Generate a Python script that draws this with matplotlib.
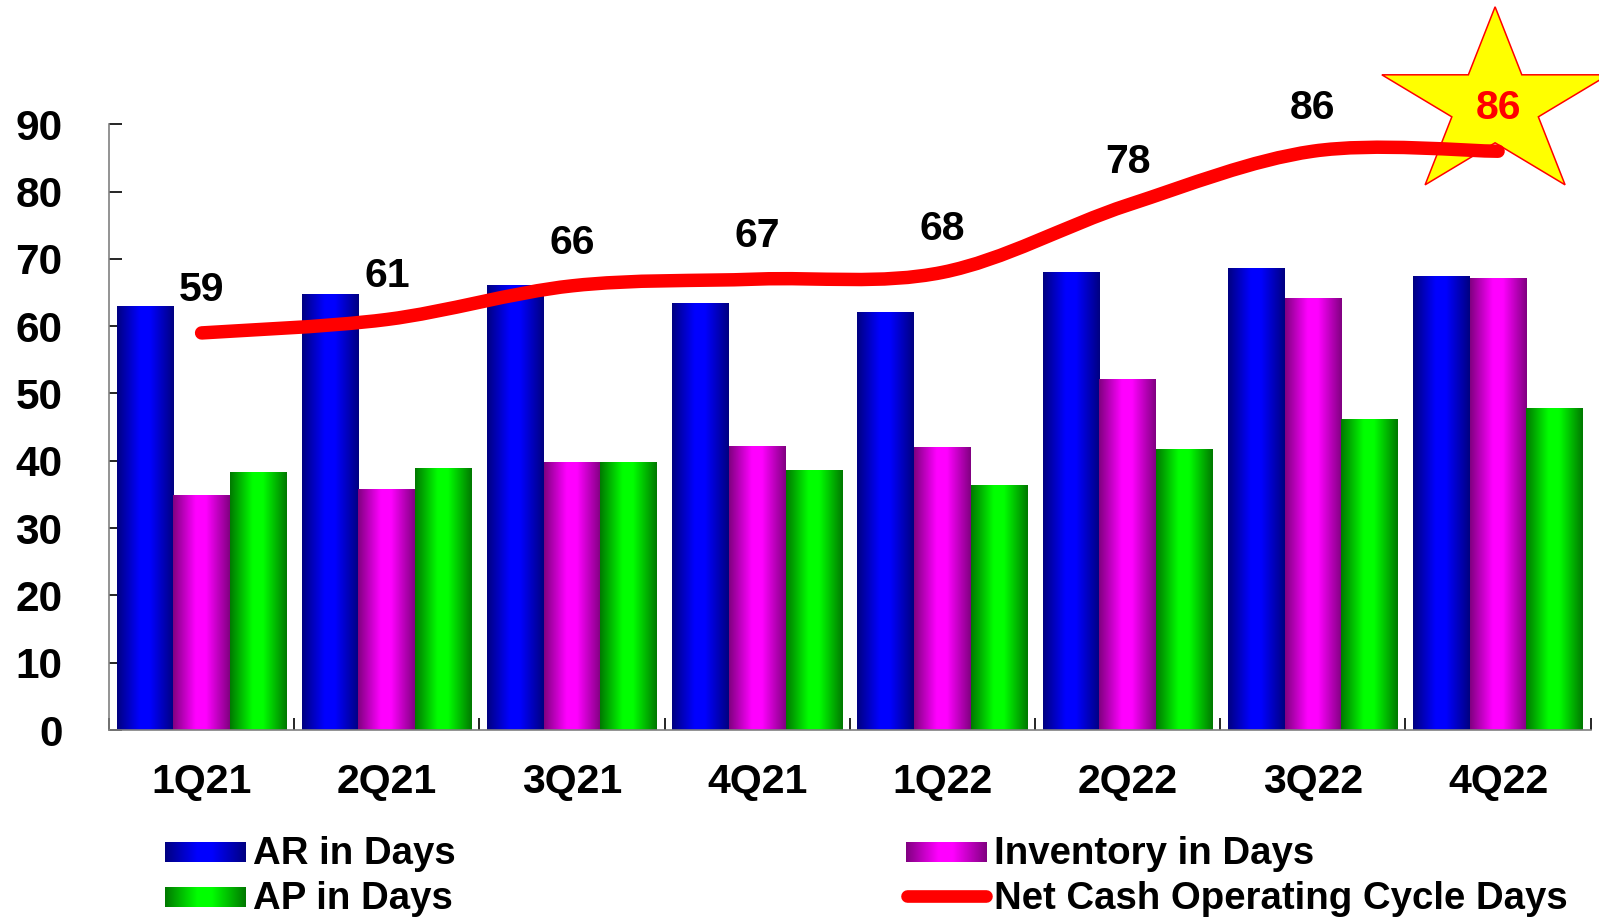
import numpy as np
import matplotlib
matplotlib.use("Agg")
import matplotlib.pyplot as plt
import matplotlib.transforms as mtransforms
from matplotlib.colors import LinearSegmentedColormap
from matplotlib.path import Path
from matplotlib.patches import PathPatch, Polygon
from matplotlib.lines import Line2D

plt.rcParams['font.family'] = ['Liberation Sans', 'DejaVu Sans']
plt.rcParams['font.weight'] = 'bold'

# Days per quarter
quarters = ["1Q21", "2Q21", "3Q21", "4Q21", "1Q22", "2Q22", "3Q22", "4Q22"]
ar_days = [63.0, 64.7, 66.1, 63.3, 62.0, 68.0, 68.6, 67.4]
inv_days = [34.8, 35.8, 39.7, 42.1, 42.0, 52.1, 64.1, 67.1]
ap_days = [38.3, 38.9, 39.8, 38.5, 36.4, 41.7, 46.2, 47.7]
ncoc_days = [59, 61, 66, 67, 68, 78, 86, 86]

W, H = 1599, 917
fig = plt.figure(figsize=(W / 100, H / 100), dpi=100)
ax = fig.add_axes([109 / W, 187 / H, (1590.7 - 109) / W, (730 - 124.3) / H])


def shade(dark, bright):
    return LinearSegmentedColormap.from_list(
        "shade", [(0, dark), (0.4, bright), (0.58, bright), (1, dark)])


blue = shade("#000080", "#0000FF")
magenta = shade("#800080", "#FF00FF")
green = shade("#007800", "#00FF00")
grad = np.linspace(0, 1, 256).reshape(1, -1)

x = np.arange(len(quarters))
w = 0.306
for vals, off, cmap in [(ar_days, -w, blue), (inv_days, 0, magenta), (ap_days, w, green)]:
    bars = ax.bar(x + off, vals, w, color="none", zorder=2)
    for b in bars:
        x0, y0 = b.get_x(), b.get_y()
        ax.imshow(grad, cmap=cmap, aspect="auto", interpolation="bilinear",
                  extent=(x0, x0 + b.get_width(), y0, y0 + b.get_height()), zorder=2)

# smoothed line (cubic bezier through the points, Excel style)
pts = np.column_stack([x, ncoc_days]).astype(float)
verts, codes = [pts[0]], [Path.MOVETO]
n = len(pts)
for i in range(n - 1):
    p0, p1, p2, p3 = pts[max(i - 1, 0)], pts[i], pts[i + 1], pts[min(i + 2, n - 1)]
    verts += [p1 + (p2 - p0) / 6, p2 - (p3 - p1) / 6, p2]
    codes += [Path.CURVE4] * 3
ax.add_patch(PathPatch(Path(verts, codes), fill=False, edgecolor="#FF0000", lw=9.7,
                       capstyle="round", joinstyle="round", zorder=4))

# star behind the last value
ang = np.deg2rad(90 + 36 * np.arange(10))
rad = np.where(np.arange(10) % 2 == 0, 98.4, 98.4 * 0.382)
star_xy = np.column_stack([rad * np.cos(ang) * 1.21, rad * np.sin(ang)])
star_tr = mtransforms.Affine2D().translate(-3, 46) + \
    mtransforms.ScaledTranslation(x[-1], ncoc_days[-1], ax.transData)
ax.add_patch(Polygon(star_xy, closed=True, facecolor="#FFFF00", edgecolor="#FF0000",
                     lw=1.1, transform=star_tr, clip_on=False, zorder=3))

for i, v in enumerate(ncoc_days):
    ax.annotate(str(v), (x[i], v), xytext=(0, 23.2), textcoords="offset points",
                ha="center", va="baseline", fontsize=29.5, fontweight="bold",
                color="#FF0000" if i == n - 1 else "black", zorder=6,
                annotation_clip=False)

ax.set_xlim(-0.5, 7.5)
ax.set_ylim(0, 90)
ax.set_yticks(range(0, 91, 10))
ax.set_xticks(x)
ax.set_xticklabels(quarters)
ax.set_xticks(np.arange(-0.5, 8, 1), minor=True)
ax.tick_params(axis="y", direction="in", length=9.5, width=1.2, pad=33.5, labelsize=30.5)
ax.tick_params(axis="x", which="major", length=0, pad=24, labelsize=29.5)
ax.tick_params(axis="x", which="minor", direction="in", length=8.6, width=1.2)

for s in ["top", "right"]:
    ax.spines[s].set_visible(False)
for s in ["left", "bottom"]:
    ax.spines[s].set_color("#808080")
    ax.spines[s].set_linewidth(1.2)

# legend
for (x0, y0, cmap) in [(165, 861.7, blue), (165, 906.7, green), (906, 861.7, magenta)]:
    lax = fig.add_axes([x0 / W, (H - y0) / H, 81 / W, 20 / H])
    lax.imshow(grad, cmap=cmap, aspect="auto", interpolation="bilinear")
    lax.axis("off")
fig.add_artist(Line2D([907 / W, 986 / W], [(H - 896) / H] * 2, color="#FF0000",
                      lw=9.1, solid_capstyle="round", transform=fig.transFigure))

legend_text = [("AR in Days", 253, 864), ("AP in Days", 253, 909),
               ("Inventory in Days", 993.5, 864),
               ("Net Cash Operating Cycle Days", 994, 909)]
for txt, tx, ty in legend_text:
    fig.text(tx / W, (H - ty) / H, txt, fontsize=27.6, fontweight="bold",
             ha="left", va="baseline")

fig.savefig("out.png", dpi=100)
